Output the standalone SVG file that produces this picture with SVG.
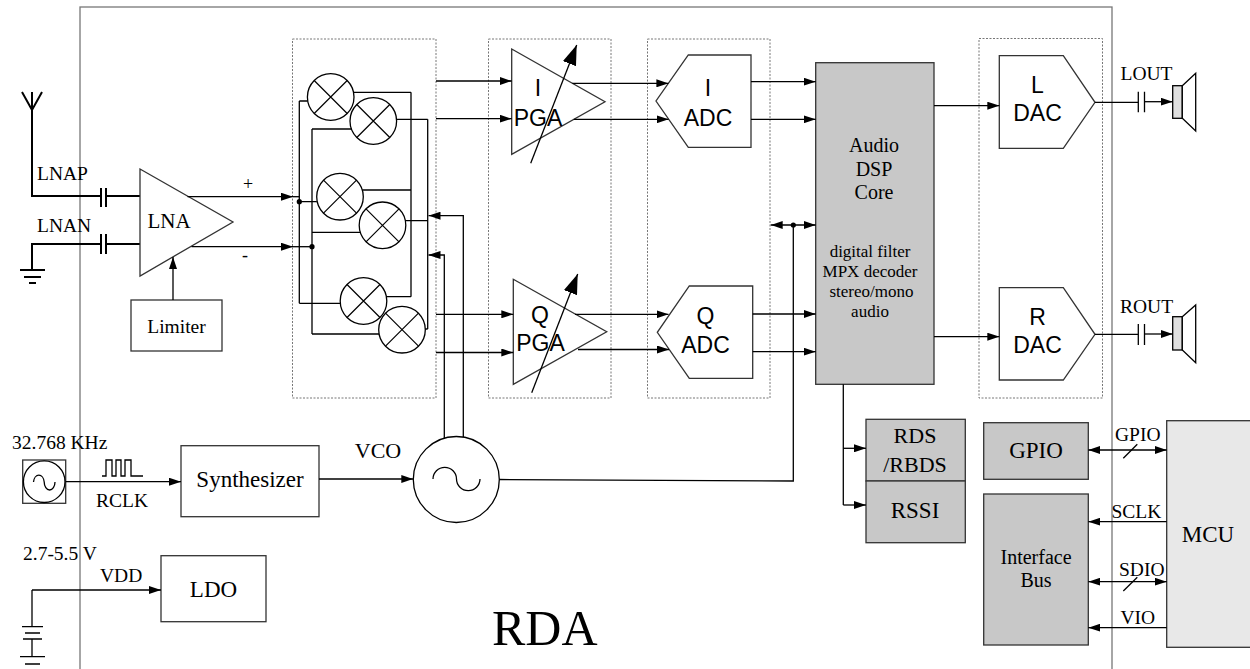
<svg xmlns="http://www.w3.org/2000/svg" width="1250" height="669" viewBox="0 0 1250 669">
<style>
.ln{fill:none;stroke:#000;stroke-width:1.3}
.th{fill:none;stroke:#000;stroke-width:2}
.bx{fill:#fff;stroke:#333;stroke-width:1.3}
.gb{fill:#c8c8c8;stroke:#333;stroke-width:1.3}
.dot{fill:none;stroke:#777;stroke-width:1;stroke-dasharray:2,1.5}
.frame{fill:none;stroke:#777;stroke-width:1.3}
.t{font-family:"Liberation Serif","Times New Roman",serif;fill:#000}
.a{font-family:"Liberation Sans",Arial,sans-serif;fill:#000}
.lb{font-size:19.5px}
.bt{font-size:23px}
.m{text-anchor:middle}
</style>
<defs>
<marker id="ah" viewBox="0 0 12 8" refX="12" refY="4" markerWidth="12" markerHeight="8" markerUnits="userSpaceOnUse" orient="auto-start-reverse"><path d="M0,0 L12,4 L0,8 z" fill="#000"/></marker>
<marker id="big" viewBox="0 0 20 14" refX="20" refY="7" markerWidth="20" markerHeight="14" markerUnits="userSpaceOnUse" orient="auto"><path d="M0,0 L20,7 L0,14 z" fill="#000"/></marker>
<g id="mx"><circle r="23.3" fill="#fff" stroke="#000" stroke-width="1.3"/><path d="M-16.5,-16.5 L16.5,16.5 M-16.5,16.5 L16.5,-16.5" stroke="#000" stroke-width="1.2"/></g>
</defs>
<rect width="1250" height="669" fill="#fff"/>

<!-- chip frame -->
<rect class="frame" x="80" y="7" width="1032" height="680"/>

<!-- dotted stage boxes -->
<rect class="dot" x="292.5" y="39" width="143.5" height="359"/>
<rect class="dot" x="488.5" y="39" width="122.5" height="359"/>
<rect class="dot" x="647.5" y="39" width="122.5" height="359"/>
<rect class="dot" x="979" y="38.5" width="123.5" height="359.5"/>

<!-- antenna & LNA inputs -->
<g id="antenna">
<path class="th" d="M22,92 L32,110 L42,92 M32,92 V196 H101 M106,196 H140"/>
<path class="th" d="M101,188 V207 M106,188 V207"/>
<text class="t lb" x="37" y="180">LNAP</text>
</g>
<g id="lnan">
<path class="th" d="M32,270 V244 H101 M106,244 H140"/>
<path class="th" d="M101,234 V254 M106,234 V254"/>
<path class="th" d="M20,270 H45 M24,277 H41 M29,283 H36"/>
<text class="t lb" x="37" y="232">LNAN</text>
</g>

<g id="lna">
<polygon class="bx" points="140,169 233,222 140,276"/>
<text class="t m" x="169" y="228" font-size="21">LNA</text>
</g>
<g id="limiter">
<rect class="bx" x="131" y="300" width="91" height="51"/>
<text class="t m" x="176.5" y="333" font-size="19.5">Limiter</text>
</g>

<!-- mixers -->
<g id="mixers">
<use href="#mx" x="330.7" y="97"/>
<use href="#mx" x="373.3" y="121"/>
<use href="#mx" x="340" y="196.7"/>
<use href="#mx" x="382.5" y="225.3"/>
<use href="#mx" x="363.5" y="301"/>
<use href="#mx" x="402" y="329.7"/>
</g>

<g id="i-pga">
<polygon class="bx" points="511.7,49 605,101.7 511.7,154.3"/>
<text class="a m" x="538" y="95.7" font-size="23">I</text>
<text class="a m" x="538" y="125.7" font-size="23">PGA</text>
<line class="ln" x1="530.7" y1="163.3" x2="576.7" y2="45" marker-end="url(#big)"/>
</g>
<g id="q-pga">
<polygon class="bx" points="513.3,279.3 606.7,331.7 513.3,384.3"/>
<text class="a m" x="540" y="323" font-size="23">Q</text>
<text class="a m" x="540.5" y="350.7" font-size="23">PGA</text>
<line class="ln" x1="531.7" y1="392.7" x2="577.7" y2="274" marker-end="url(#big)"/>
</g>
<g id="i-adc">
<polygon class="bx" points="688.3,55 751,55 751,147.3 688.3,147.3 656,101"/>
<text class="a m" x="708" y="95.7" font-size="23">I</text>
<text class="a m" x="708" y="125.7" font-size="23">ADC</text>
</g>
<g id="q-adc">
<polygon class="bx" points="689.3,286 752.7,286 752.7,378.3 689.3,378.3 657.3,332.3"/>
<text class="a m" x="705.5" y="324.3" font-size="23">Q</text>
<text class="a m" x="705.5" y="352.7" font-size="23">ADC</text>
</g>

<g id="dsp">
<rect class="gb" x="815.7" y="62.7" width="118.3" height="321.6"/>
<text class="t m" x="874" y="151.7" font-size="20">Audio</text>
<text class="t m" x="874" y="175.7" font-size="20">DSP</text>
<text class="t m" x="874" y="199.3" font-size="20">Core</text>
<text class="t m" x="870" y="256.7" font-size="17">digital filter</text>
<text class="t m" x="870" y="276.7" font-size="17">MPX decoder</text>
<text class="t m" x="871.5" y="296.7" font-size="17">stereo/mono</text>
<text class="t m" x="870" y="316.7" font-size="17">audio</text>
</g>

<g id="l-dac">
<polygon class="bx" points="999.3,55.7 1063.3,55.7 1095,102.3 1063.3,148.3 999.3,148.3"/>
<text class="a m" x="1037.5" y="93.3" font-size="23">L</text>
<text class="a m" x="1037.5" y="120.7" font-size="23">DAC</text>
</g>
<g id="r-dac">
<polygon class="bx" points="999.3,287.7 1063.3,287.7 1095,334.3 1063.3,380 999.3,380"/>
<text class="a m" x="1037.5" y="325" font-size="23">R</text>
<text class="a m" x="1037.5" y="352.7" font-size="23">DAC</text>
</g>

<g id="lout">
<path class="ln" d="M1095,102.3 H1138.3 M1138.3,91.7 V112.3 M1144.5,91.7 V112.3"/>
<rect x="1172.7" y="85.7" width="9.6" height="32.6" fill="#e0e0e0" stroke="#000" stroke-width="1.3"/>
<polygon points="1182.3,85.7 1195.7,73.3 1195.7,131 1182.3,118.3" fill="#fff" stroke="#000" stroke-width="1.3"/>
<text class="t lb" x="1120.5" y="80">LOUT</text>
</g>
<g id="rout">
<path class="ln" d="M1095,334.3 H1138.3 M1138.3,324 V345 M1144.5,324 V345"/>
<rect x="1172.7" y="316.7" width="9.6" height="33.3" fill="#e0e0e0" stroke="#000" stroke-width="1.3"/>
<polygon points="1182.3,316.7 1195.7,305 1195.7,362.7 1182.3,350" fill="#fff" stroke="#000" stroke-width="1.3"/>
<text class="t lb" x="1120" y="313.3">ROUT</text>
</g>

<g id="crystal">
<rect class="bx" x="22.7" y="460" width="43" height="43.3"/>
<circle cx="44.2" cy="481.7" r="20.8" fill="none" stroke="#000" stroke-width="1.3"/>
<path class="ln" d="M33.5,482 A5.4,8 0 0 1 44.2,482 A5.4,8 0 0 0 55,482"/>
<text class="t lb" x="12" y="449">32.768 KHz</text>
</g>
<g id="rclk-label">
<path class="ln" d="M102,476 H106 V460 H112 V476 H116 V460 H121 V476 H125 V460 H131 V476 H143"/>
<text class="t lb" x="96" y="507">RCLK</text>
</g>
<g id="synthesizer">
<rect class="bx" x="181" y="445.7" width="138" height="71"/>
<text class="t m" x="250" y="487" font-size="23">Synthesizer</text>
</g>
<g id="vco">
<circle cx="456.3" cy="479.5" r="43" fill="#fff" stroke="#000" stroke-width="1.3"/>
<path class="ln" d="M433,479 A11.7,11.5 0 0 1 456.5,479 A11.7,11.5 0 0 0 480,479"/>
<text class="t m" x="378" y="458" font-size="22">VCO</text>
</g>

<g id="vdd">
<text class="t lb" x="23" y="560">2.7-5.5 V</text>
<text class="t lb" x="100" y="581.7">VDD</text>
<path class="ln" d="M32,626 V590"/>
<path class="ln" d="M22,626.7 H43 M25,633 H40 M23,639 H42 M32,639 V657 M20,656.7 H45 M25,664 H40"/>
</g>
<g id="ldo">
<rect class="bx" x="161" y="555.7" width="105" height="66"/>
<text class="t m" x="213.5" y="597" font-size="23">LDO</text>
</g>

<g id="rds">
<rect class="gb" x="866" y="419.3" width="99.3" height="61.7"/>
<text class="t m" x="915" y="443.3" font-size="22">RDS</text>
<text class="t m" x="915" y="471.7" font-size="22">/RBDS</text>
</g>
<g id="rssi">
<rect class="gb" x="866" y="481" width="99.3" height="61.7"/>
<text class="t m" x="915" y="518.3" font-size="23">RSSI</text>
</g>
<g id="gpio">
<rect class="gb" x="983.7" y="422.7" width="104.6" height="56.6"/>
<text class="t m" x="1036" y="458.3" font-size="23">GPIO</text>
</g>
<g id="interface-bus">
<rect class="gb" x="983.7" y="494" width="104.6" height="151"/>
<text class="t m" x="1036" y="564.3" font-size="20">Interface</text>
<text class="t m" x="1036" y="587.3" font-size="20">Bus</text>
</g>
<g id="mcu">
<rect x="1166.7" y="420.7" width="100" height="226.6" fill="#e8e8e8" stroke="#333" stroke-width="1.3"/>
<text class="t" x="1181.7" y="541.7" font-size="23">MCU</text>
</g>

<text class="t" x="492" y="645" font-size="50">RDA</text>

<!-- connectors -->
<g id="connectors">
<!-- LNA -->
<text class="t" x="248" y="190" font-size="18" text-anchor="middle">+</text>
<text class="t" x="245" y="261" font-size="18" text-anchor="middle">-</text>
<line class="ln" x1="187.5" y1="196.7" x2="293" y2="196.7" marker-end="url(#ah)"/>
<line class="ln" x1="293" y1="196.7" x2="299.3" y2="196.7"/>
<line class="ln" x1="191.5" y1="246.7" x2="293" y2="246.7" marker-end="url(#ah)"/>
<line class="ln" x1="293" y1="246.7" x2="312" y2="246.7"/>
<line class="ln" x1="173" y1="300" x2="173" y2="257" marker-end="url(#ah)"/>
<!-- mixer wiring -->
<path class="ln" d="M299.3,101 V303.3 M299.3,101 H307.5 M299.3,201.7 H316.8 M299.3,303.3 H340.3"/>
<path class="ln" d="M312,129 V334 M312,129 H351.4 M312,232.3 H360.3 M312,334 H379.1"/>
<path class="ln" d="M411,92.3 V296.7 M353.5,92.3 H411 M362.3,190 H411 M386.4,296.7 H411"/>
<path class="ln" d="M427.7,119.3 V329 M396.5,119.3 H427.7 M405.3,220.7 H427.7 M425.3,329 H427.7"/>
<circle cx="299.3" cy="201.7" r="2.6" fill="#000"/>
<circle cx="312" cy="246.7" r="2.6" fill="#000"/>
<!-- LO -->
<path class="ln" d="M463.3,437.1 V215.7 H428.5" marker-end="url(#ah)"/>
<path class="ln" d="M444.3,438.2 V255 H428.5" marker-end="url(#ah)"/>
<!-- mixer to PGA -->
<line class="ln" x1="436" y1="81" x2="511.7" y2="81" marker-end="url(#ah)"/>
<line class="ln" x1="436" y1="118.7" x2="511.7" y2="118.7" marker-end="url(#ah)"/>
<line class="ln" x1="436" y1="314.3" x2="513.3" y2="314.3" marker-end="url(#ah)"/>
<line class="ln" x1="436" y1="352.5" x2="513.3" y2="352.5" marker-end="url(#ah)"/>
<!-- PGA to ADC -->
<line class="ln" x1="572.4" y1="83.3" x2="668.4" y2="83.3" marker-end="url(#ah)"/>
<line class="ln" x1="573.8" y1="119.3" x2="668.6" y2="119.3" marker-end="url(#ah)"/>
<line class="ln" x1="575" y1="314.3" x2="668.5" y2="314.3" marker-end="url(#ah)"/>
<line class="ln" x1="578" y1="349.5" x2="669" y2="349.5" marker-end="url(#ah)"/>
<!-- ADC to DSP -->
<line class="ln" x1="751" y1="81.7" x2="815.7" y2="81.7" marker-end="url(#ah)"/>
<line class="ln" x1="751" y1="119.3" x2="815.7" y2="119.3" marker-end="url(#ah)"/>
<line class="ln" x1="752.7" y1="314" x2="815.7" y2="314" marker-end="url(#ah)"/>
<line class="ln" x1="752.7" y1="351.7" x2="815.7" y2="351.7" marker-end="url(#ah)"/>
<!-- VCO to DSP -->
<line class="ln" x1="770.7" y1="225" x2="815.7" y2="225" marker-start="url(#ah)" marker-end="url(#ah)"/>
<circle cx="793.3" cy="225" r="2.6" fill="#000"/>
<path class="ln" d="M499.3,479.5 L793.3,481 V225"/>
<!-- DSP to DAC -->
<line class="ln" x1="934" y1="105.7" x2="999.3" y2="105.7" marker-end="url(#ah)"/>
<line class="ln" x1="934" y1="336.7" x2="999.3" y2="336.7" marker-end="url(#ah)"/>
<!-- DAC to speakers -->
<line class="ln" x1="1144.5" y1="101.7" x2="1172.7" y2="101.7" marker-end="url(#ah)"/>
<line class="ln" x1="1144.5" y1="334" x2="1172.7" y2="334" marker-end="url(#ah)"/>
<!-- clock / synth -->
<line class="ln" x1="65.7" y1="481.7" x2="181" y2="481.7" marker-end="url(#ah)"/>
<line class="ln" x1="319" y1="479" x2="413.3" y2="479" marker-end="url(#ah)"/>
<!-- VDD -->
<path class="ln" d="M32,590 H161" marker-end="url(#ah)"/>
<!-- DSP to RDS/RSSI -->
<path class="ln" d="M843.3,384.3 V505"/>
<line class="ln" x1="843.3" y1="448.3" x2="866" y2="448.3" marker-end="url(#ah)"/>
<line class="ln" x1="843.3" y1="505" x2="866" y2="505" marker-end="url(#ah)"/>
<!-- MCU buses -->
<line class="ln" x1="1088.3" y1="450" x2="1166.7" y2="450" marker-start="url(#ah)" marker-end="url(#ah)"/>
<line class="ln" x1="1123.3" y1="458.3" x2="1137.3" y2="444.3"/>
<text class="t lb" x="1115" y="441">GPIO</text>
<line class="ln" x1="1166.7" y1="521.7" x2="1088.3" y2="521.7" marker-end="url(#ah)"/>
<text class="t lb" x="1111.5" y="518.3">SCLK</text>
<line class="ln" x1="1088.3" y1="581.7" x2="1166.7" y2="581.7" marker-start="url(#ah)" marker-end="url(#ah)"/>
<line class="ln" x1="1123.3" y1="591" x2="1137.3" y2="577.3"/>
<text class="t lb" x="1119" y="576">SDIO</text>
<line class="ln" x1="1166.7" y1="627.7" x2="1088.3" y2="627.7" marker-end="url(#ah)"/>
<text class="t lb" x="1120.5" y="624.3">VIO</text>
</g>
</svg>
